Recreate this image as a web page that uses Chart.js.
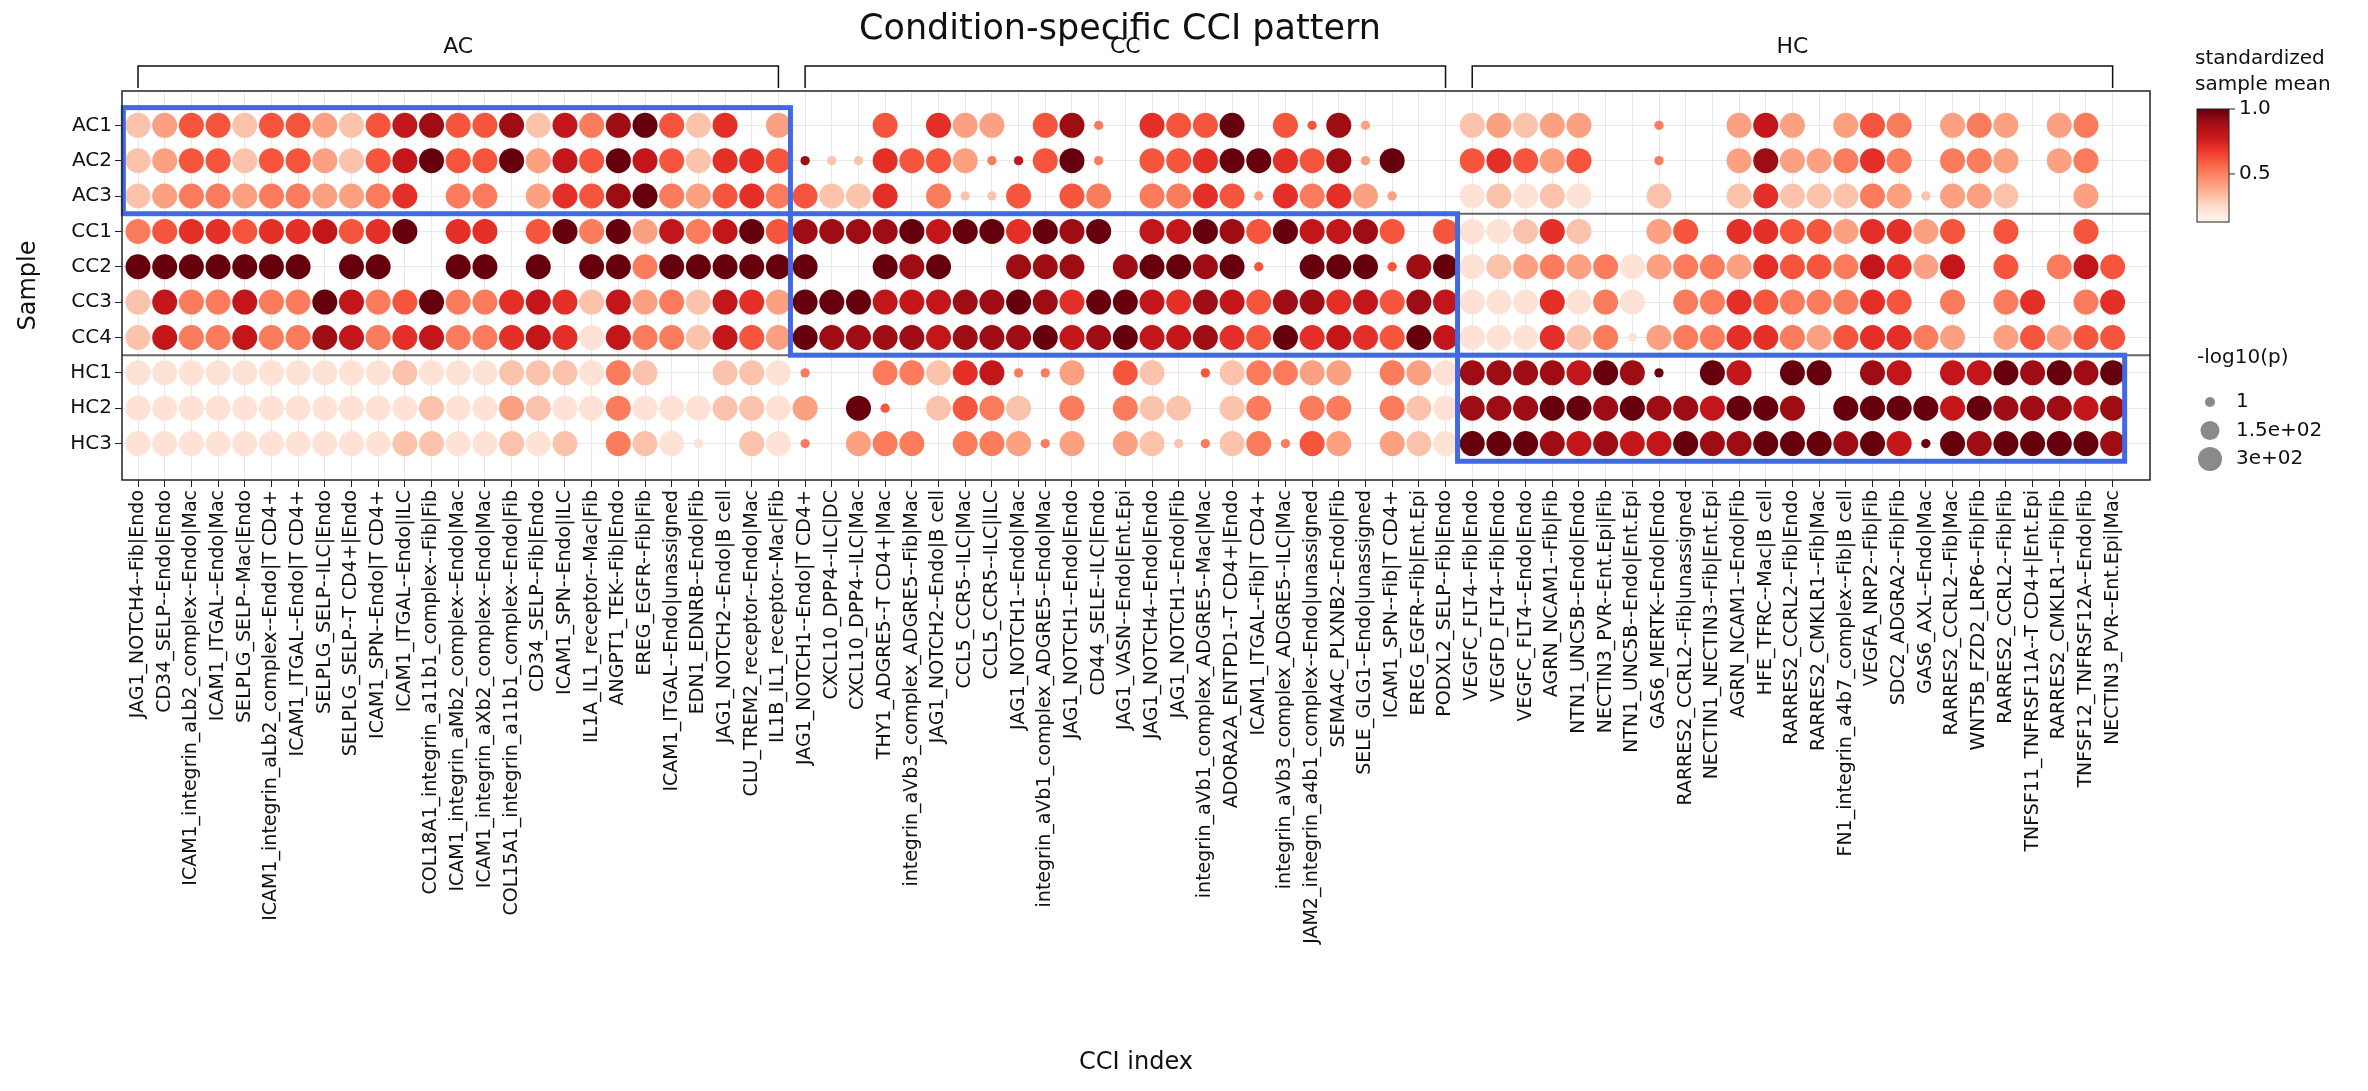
<!DOCTYPE html>
<html>
<head>
<meta charset="utf-8">
<script src="https://cdn.jsdelivr.net/npm/chart.js@4.4.1/dist/chart.umd.min.js"></script>
<style>
  body { margin: 0; background: #fff; }
  canvas { display: block; }
</style>
</head>
<body>
<canvas id="cci" width="2368" height="1091"></canvas>
<script>
const samples = ['AC1', 'AC2', 'AC3', 'CC1', 'CC2', 'CC3', 'CC4', 'HC1', 'HC2', 'HC3'];
const groups = ['AC', 'CC', 'HC'];
const cciLabels = [
    'JAG1_NOTCH4--Fib|Endo', 'CD34_SELP--Endo|Endo', 'ICAM1_integrin_aLb2_complex--Endo|Mac', 'ICAM1_ITGAL--Endo|Mac',
    'SELPLG_SELP--Mac|Endo', 'ICAM1_integrin_aLb2_complex--Endo|T CD4+', 'ICAM1_ITGAL--Endo|T CD4+', 'SELPLG_SELP--ILC|Endo',
    'SELPLG_SELP--T CD4+|Endo', 'ICAM1_SPN--Endo|T CD4+', 'ICAM1_ITGAL--Endo|ILC', 'COL18A1_integrin_a11b1_complex--Fib|Fib',
    'ICAM1_integrin_aMb2_complex--Endo|Mac', 'ICAM1_integrin_aXb2_complex--Endo|Mac', 'COL15A1_integrin_a11b1_complex--Endo|Fib',
    'CD34_SELP--Fib|Endo', 'ICAM1_SPN--Endo|ILC', 'IL1A_IL1_receptor--Mac|Fib', 'ANGPT1_TEK--Fib|Endo', 'EREG_EGFR--Fib|Fib',
    'ICAM1_ITGAL--Endo|unassigned', 'EDN1_EDNRB--Endo|Fib', 'JAG1_NOTCH2--Endo|B cell', 'CLU_TREM2_receptor--Endo|Mac',
    'IL1B_IL1_receptor--Mac|Fib',
    'JAG1_NOTCH1--Endo|T CD4+', 'CXCL10_DPP4--ILC|DC', 'CXCL10_DPP4--ILC|Mac', 'THY1_ADGRE5--T CD4+|Mac',
    'integrin_aVb3_complex_ADGRE5--Fib|Mac', 'JAG1_NOTCH2--Endo|B cell', 'CCL5_CCR5--ILC|Mac', 'CCL5_CCR5--ILC|ILC',
    'JAG1_NOTCH1--Endo|Mac', 'integrin_aVb1_complex_ADGRE5--Endo|Mac', 'JAG1_NOTCH1--Endo|Endo', 'CD44_SELE--ILC|Endo',
    'JAG1_VASN--Endo|Ent.Epi', 'JAG1_NOTCH4--Endo|Endo', 'JAG1_NOTCH1--Endo|Fib', 'integrin_aVb1_complex_ADGRE5--Mac|Mac',
    'ADORA2A_ENTPD1--T CD4+|Endo', 'ICAM1_ITGAL--Fib|T CD4+', 'integrin_aVb3_complex_ADGRE5--ILC|Mac',
    'JAM2_integrin_a4b1_complex--Endo|unassigned', 'SEMA4C_PLXNB2--Endo|Fib', 'SELE_GLG1--Endo|unassigned',
    'ICAM1_SPN--Fib|T CD4+', 'EREG_EGFR--Fib|Ent.Epi', 'PODXL2_SELP--Fib|Endo',
    'VEGFC_FLT4--Fib|Endo', 'VEGFD_FLT4--Fib|Endo', 'VEGFC_FLT4--Endo|Endo', 'AGRN_NCAM1--Fib|Fib', 'NTN1_UNC5B--Endo|Endo',
    'NECTIN3_PVR--Ent.Epi|Fib', 'NTN1_UNC5B--Endo|Ent.Epi', 'GAS6_MERTK--Endo|Endo', 'RARRES2_CCRL2--Fib|unassigned',
    'NECTIN1_NECTIN3--Fib|Ent.Epi', 'AGRN_NCAM1--Endo|Fib', 'HFE_TFRC--Mac|B cell', 'RARRES2_CCRL2--Fib|Endo',
    'RARRES2_CMKLR1--Fib|Mac', 'FN1_integrin_a4b7_complex--Fib|B cell', 'VEGFA_NRP2--Fib|Fib', 'SDC2_ADGRA2--Fib|Fib',
    'GAS6_AXL--Endo|Mac', 'RARRES2_CCRL2--Fib|Mac', 'WNT5B_FZD2_LRP6--Fib|Fib', 'RARRES2_CCRL2--Fib|Fib',
    'TNFSF11_TNFRSF11A--T CD4+|Ent.Epi', 'RARRES2_CMKLR1--Fib|Fib', 'TNFSF12_TNFRSF12A--Endo|Fib', 'NECTIN3_PVR--Ent.Epi|Mac'
];

// one code per dot: 0 = no dot, 1..9 = standardized mean level (light -> dark),
// lowercase a..i = same levels but with a small -log10(p)
const rowCodes = [
    '2355255325785582748952603 00050633058d0655905e8c000 2323300d00373035403430340',
    '2355255325795593759752665 hbb6553dg59d055699658c900 5653500d00383346404430340',
    '2344344334604403658943564 522604bb505404465c6463c00 12121002002622243b3320030',
    '4566566756906605949374795 8888979969890779859778505 1126200350665536635050050',
    '9999999099009909099499999 90098900888089989e0999e89 1234341344365547637050475',
    '2744744974594467627342763 9997778898699768758867587 1116141044654446504046046',
    '2744744874674467617442753 9888878889789778659676597 111624a344664356643035355',
    '1111111111211122214200221 d0044267dd30520e244330431 8888798i09709908707798989',
    '1111111111121132114111221 309e025420404220240440421 8889989887998099997988878',
    '111111111122112120421a021 d03440443d3032bd24d530321 99987877988999897i9899998'
];
const meanTicks = [0.5, 1.0];
const pLegend = [1, 150, 300];
const pLegendText = ['1', '1.5e+02', '3e+02'];
const bigP = 300, smallP = 5;
const vmin = 0.13, vmax = 1.0;

const reds = ['#fff5f0', '#fee0d2', '#fcbba1', '#fc9272', '#fb6a4a', '#ef3b2c', '#cb181d', '#a50f15', '#67000d'];
function hex(c) { return [1, 3, 5].map(i => parseInt(c.substr(i, 2), 16)); }
function redsAt(t) {
    t = Math.max(0, Math.min(1, t)) * 8;
    const i = Math.min(7, Math.floor(t)), f = t - i;
    const a = hex(reds[i]), b = hex(reds[i + 1]);
    return `rgb(${a.map((v, k) => Math.round(v + (b[k] - v) * f)).join(',')})`;
}
function colourOf(v) { return redsAt((v - vmin) / (vmax - vmin)); }
function radiusOf(p) { return 3.5 + 9 * Math.sqrt(p / 300); }

const points = [];
rowCodes.forEach((row, r) => {
    row.replace(/ /g, '').split('').forEach((ch, c) => {
        if (ch === '0') return;
        const small = ch >= 'a';
        const level = small ? ch.charCodeAt(0) - 96 : +ch;
        points.push({ x: c, y: r, mean: vmin + (vmax - vmin) * level / 9, p: small ? smallP : bigP });
    });
});

const decor = {
    id: 'decor',
    afterDatasetsDraw(chart) {
        const { ctx, scales: { x, y }, chartArea: a } = chart;
        ctx.save();
        ctx.strokeStyle = '#666'; ctx.lineWidth = 2;
        [2.5, 6.5].forEach(v => {
            ctx.beginPath(); ctx.moveTo(a.left, y.getPixelForValue(v)); ctx.lineTo(a.right, y.getPixelForValue(v)); ctx.stroke();
        });
        ctx.strokeStyle = '#4169e1'; ctx.lineWidth = 5;
        [[0, 24, 0, 2], [25, 49, 3, 6], [50, 74, 7, 9]].forEach(([c0, c1, r0, r1]) => {
            const x0 = x.getPixelForValue(c0 - 0.55), x1 = x.getPixelForValue(c1 + 0.45);
            const y0 = y.getPixelForValue(r0 - 0.5), y1 = y.getPixelForValue(r1 + 0.5);
            ctx.strokeRect(x0, y0, x1 - x0, y1 - y0);
        });
        ctx.strokeStyle = '#222'; ctx.lineWidth = 1.5;
        ctx.strokeRect(a.left, a.top, a.right - a.left, a.bottom - a.top);
        ctx.restore();
    },
    afterDraw(chart) {
        const { ctx, scales: { x } } = chart;
        ctx.save();
        ctx.fillStyle = '#111';
        ctx.font = '35px "DejaVu Sans"'; ctx.textAlign = 'center'; ctx.textBaseline = 'middle';
        ctx.fillText('Condition-specific CCI pattern', 1120, 30);
        ctx.strokeStyle = '#111'; ctx.lineWidth = 1.5; ctx.font = '22px "DejaVu Sans"';
        groups.forEach((g, i) => {
            const x0 = x.getPixelForValue(i * 25), x1 = x.getPixelForValue(i * 25 + 24);
            ctx.beginPath(); ctx.moveTo(x0, 88); ctx.lineTo(x0, 66); ctx.lineTo(x1, 66); ctx.lineTo(x1, 88); ctx.stroke();
            ctx.fillText(g, (x0 + x1) / 2, 47);
        });
        // colour bar
        const cx = 2197, cw = 32, top = 109, bot = 222;
        for (let yy = top; yy < bot; yy++) {
            const v = vmax - (vmax - vmin) * (yy - top) / (bot - top);
            ctx.fillStyle = colourOf(v); ctx.fillRect(cx, yy, cw, 1.5);
        }
        ctx.lineWidth = 1; ctx.strokeStyle = '#222';
        ctx.strokeRect(cx, top, cw, bot - top);
        ctx.fillStyle = '#111'; ctx.textAlign = 'left';
        ctx.font = '20px "DejaVu Sans"';
        ctx.fillText('standardized', cx - 2, 59); ctx.fillText('sample mean', cx - 2, 85);
        meanTicks.forEach(t => {
            const yy = top + (vmax - t) / (vmax - vmin) * (bot - top);
            ctx.beginPath(); ctx.moveTo(cx + cw, yy); ctx.lineTo(cx + cw + 6, yy); ctx.stroke();
            ctx.fillText(t.toFixed(1), cx + cw + 10, yy);
        });
        // size legend
        ctx.fillText('-log10(p)', cx, 358);
        pLegend.forEach((p, i) => {
            const yy = 402 + i * 28.5;
            ctx.fillStyle = '#8a8a8a';
            ctx.beginPath(); ctx.arc(2210, yy, [5, 9.5, 12][i], 0, Math.PI * 2); ctx.fill();
            ctx.fillStyle = '#111';
            ctx.fillText(pLegendText[i], 2236, yy);
        });
        ctx.restore();
    }
};

new Chart(document.getElementById('cci'), {
    type: 'scatter',
    data: {
        datasets: [{
            data: points,
            pointRadius: c => c.raw ? radiusOf(c.raw.p) : 0,
            pointHoverRadius: c => c.raw ? radiusOf(c.raw.p) : 0,
            pointBackgroundColor: c => c.raw ? colourOf(c.raw.mean) : '#000',
            pointBorderWidth: 0
        }]
    },
    options: {
        responsive: false,
        animation: false,
        layout: { padding: { left: 14, right: 218, top: 91, bottom: 0 } },
        plugins: { legend: { display: false }, tooltip: { enabled: false } },
        scales: {
            x: {
                type: 'linear', min: -0.6, max: 75.4,
                afterBuildTicks: s => { s.ticks = cciLabels.map((_, i) => ({ value: i })); },
                afterFit: s => { s.height = 611; },
                ticks: {
                    autoSkip: false, minRotation: 90, maxRotation: 90, color: '#111',
                    font: { family: 'DejaVu Sans', size: 19 },
                    callback: v => cciLabels[v]
                },
                grid: { color: '#e8e8e8', tickColor: '#222', tickLength: 7 },
                border: { display: false },
                title: { display: true, text: 'CCI index', color: '#111', font: { family: 'DejaVu Sans', size: 24 }, padding: { top: 0, bottom: 14 } }
            },
            y: {
                type: 'linear', reverse: true, min: -0.97, max: 10.03,
                afterBuildTicks: s => { s.ticks = samples.map((_, i) => ({ value: i })); },
                afterFit: s => { s.width = 108; },
                ticks: { color: '#111', font: { family: 'DejaVu Sans', size: 20 }, callback: v => samples[v] },
                grid: { color: '#e8e8e8', tickColor: '#222', tickLength: 7 },
                border: { display: false },
                title: { display: true, text: 'Sample', color: '#111', font: { family: 'DejaVu Sans', size: 24 }, padding: 0 }
            }
        }
    },
    plugins: [decor]
});
</script>
</body>
</html>
